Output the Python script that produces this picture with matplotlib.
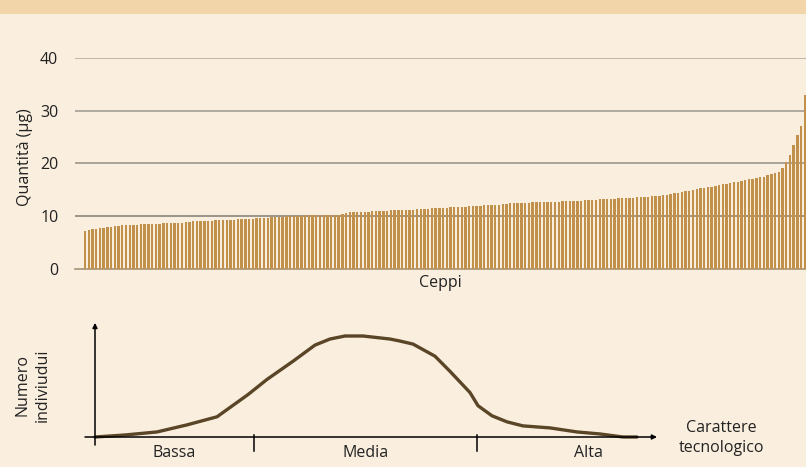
import matplotlib.pyplot as plt
from matplotlib.patches import Rectangle

plt.rcParams['font.family'] = ['Open Sans', 'DejaVu Sans']

# quantità prodotta da ciascun ceppo (µg), ordinata
quantita = [
    7.2, 7.3, 7.5, 7.6, 7.8, 7.8, 8.0, 8.0, 8.1, 8.2,
    8.3, 8.3, 8.3, 8.4, 8.4, 8.5, 8.5, 8.5, 8.5, 8.6,
    8.6, 8.7, 8.7, 8.7, 8.8, 8.8, 8.8, 8.9, 8.9, 9.0,
    9.0, 9.0, 9.1, 9.1, 9.1, 9.2, 9.2, 9.2, 9.3, 9.3,
    9.3, 9.4, 9.4, 9.5, 9.5, 9.5, 9.6, 9.6, 9.7, 9.7,
    9.8, 9.8, 9.9, 9.9, 10.0, 10.1, 10.1, 10.1, 10.1, 10.2,
    10.2, 10.2, 10.2, 10.2, 10.3, 10.3, 10.3, 10.3, 10.3, 10.4,
    10.6, 10.7, 10.7, 10.7, 10.8, 10.8, 10.8, 10.9, 11.0, 11.0,
    11.0, 11.0, 11.1, 11.1, 11.1, 11.2, 11.2, 11.2, 11.2, 11.3,
    11.4, 11.4, 11.4, 11.5, 11.5, 11.5, 11.6, 11.6, 11.7, 11.7,
    11.8, 11.8, 11.8, 11.9, 11.9, 11.9, 12.0, 12.1, 12.1, 12.1,
    12.2, 12.2, 12.3, 12.3, 12.4, 12.4, 12.4, 12.4, 12.5, 12.5,
    12.6, 12.6, 12.6, 12.6, 12.7, 12.7, 12.7, 12.7, 12.8, 12.8,
    12.8, 12.9, 12.9, 12.9, 13.0, 13.0, 13.1, 13.1, 13.2, 13.2,
    13.3, 13.3, 13.3, 13.4, 13.4, 13.4, 13.5, 13.5, 13.6, 13.6,
    13.7, 13.7, 13.8, 13.8, 13.9, 14.0, 14.1, 14.2, 14.3, 14.4,
    14.6, 14.7, 14.8, 15.0, 15.1, 15.3, 15.4, 15.5, 15.6, 15.8,
    15.9, 16.0, 16.1, 16.3, 16.4, 16.5, 16.6, 16.8, 17.0, 17.1,
    17.2, 17.4, 17.5, 17.7, 17.9,
    18.1, 18.4, 19.1, 20.2, 21.6, 23.4, 25.4, 27.1, 32.9,
]
y_ticks = [0, 10, 20, 30, 40]

# curva di distribuzione (carattere tecnologico, numero individui)
curva_x = [0, 30, 62, 92, 122, 153, 172, 198, 220, 235, 250, 268,
           295, 305, 318, 340, 355, 375, 383, 397, 412, 428, 455,
           482, 505, 528, 542]
curva_y = [0, 2, 5, 12, 20, 42, 57, 75, 91, 97, 100, 100,
           97, 95, 92, 80, 65, 44, 31, 21, 15, 11, 9, 5, 3, 0, 0]
classi = ['Bassa', 'Media', 'Alta']
confini = [0, 159, 382, 604]

bg = '#FAEFDF'
bar_col = '#C1914B'
line_col = '#5A4527'
txt = '#222222'
fs = 11.5

fig = plt.figure(figsize=(8.06, 4.67), dpi=100, facecolor=bg)
fig.add_artist(Rectangle((0, 1 - 14 / 467), 1, 14 / 467, transform=fig.transFigure,
                         facecolor='#F2D5A8', edgecolor='none'))

# pannello superiore
ax = fig.add_axes([75 / 806, 198 / 467, 731 / 806, 211.3 / 467])
ax.set_facecolor(bg)
xs = list(range(len(quantita)))
ax.bar(xs, quantita, width=0.64, color=bar_col, zorder=3)
ax.set_xlim(-2.68, 193.3)
ax.set_ylim(0, 40)
ax.set_yticks(y_ticks)
ax.set_yticklabels([str(v) for v in y_ticks], fontsize=fs, color=txt)
ax.tick_params(axis='y', length=0, pad=12)
ax.set_xticks([])
grid_cols = ['#8a857c', '#9a958c', '#a29d94', '#b0aba2']
for v, gc in zip(y_ticks[1:], grid_cols):
    ax.axhline(v, color=gc, lw=1.2, zorder=2)
for s in ['top', 'right', 'left']:
    ax.spines[s].set_visible(False)
ax.spines['bottom'].set_color('#a39275')
ax.spines['bottom'].set_linewidth(1.2)
ax.set_ylabel('Quantità (µg)', fontsize=fs, color=txt)
ax.yaxis.set_label_coords(-0.057, 0.53)
ax.set_xlabel('Ceppi', fontsize=fs, color=txt, labelpad=4)

# pannello inferiore
bx = fig.add_axes([75 / 806, 7 / 467, 731 / 806, 145 / 467])
bx.set_facecolor('none')
bx.set_xlim(-20, 711)
bx.set_ylim(-23 / 101 * 100, 122 / 101 * 100)
bx.axis('off')
bx.plot(curva_x, curva_y, color=line_col, lw=2.4, solid_capstyle='round', zorder=3)
bx.annotate('', xy=(562, 0), xytext=(-10, 0),
            arrowprops=dict(arrowstyle='-|>', color='black', lw=1.1,
                            mutation_scale=7, shrinkA=0, shrinkB=0))
bx.annotate('', xy=(0, 113), xytext=(0, -8),
            arrowprops=dict(arrowstyle='-|>', color='black', lw=1.1,
                            mutation_scale=7, shrinkA=0, shrinkB=0))
for c in confini[1:3]:
    bx.plot([c, c], [2, -14], color='black', lw=1.1)
for i, nome in enumerate(classi):
    bx.text((confini[i] + confini[i + 1]) / 2, -16, nome, ha='center', va='center',
            fontsize=fs, color=txt)
bx.text(626, -1, 'Carattere\ntecnologico', ha='center', va='center',
        fontsize=fs, color=txt, linespacing=1.35)
bx.text(-62, 51, 'Numero\nindiviudui', ha='center', va='center', rotation=90,
        fontsize=fs, color=txt, linespacing=1.35)

fig.savefig('out.png', dpi=100, facecolor=bg)
